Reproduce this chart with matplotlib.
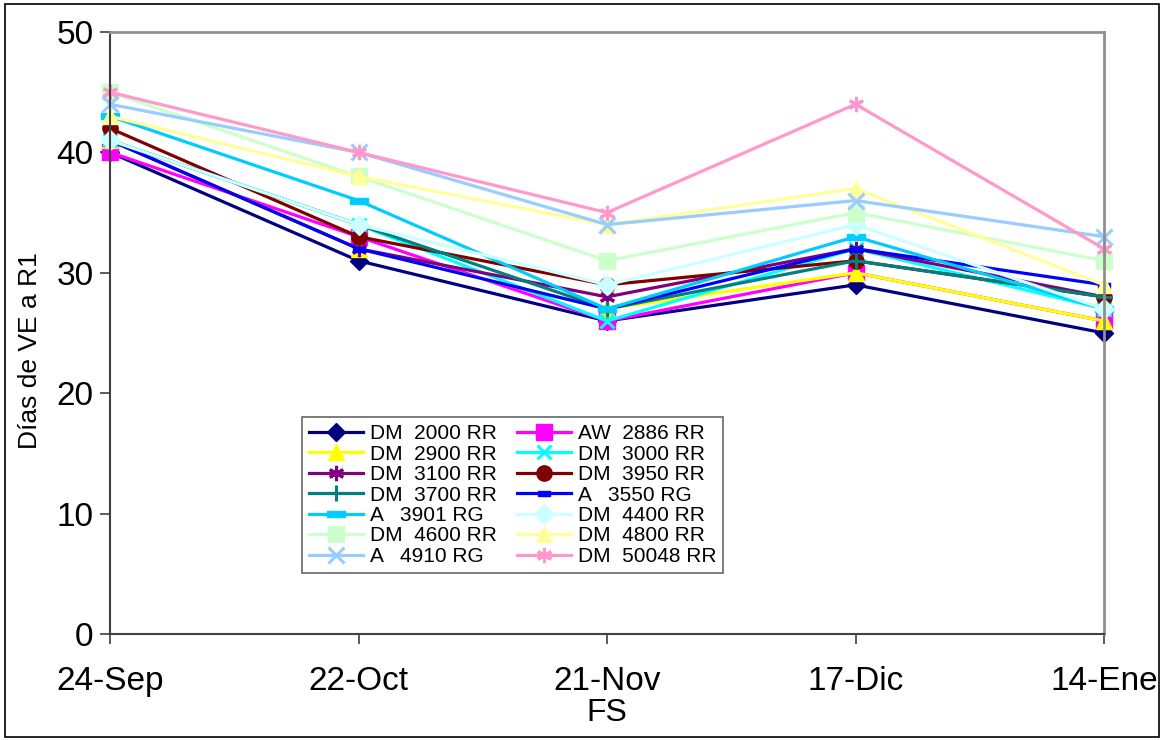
import numpy as np
import matplotlib.pyplot as plt
from matplotlib.patches import Rectangle

plt.rcParams['font.family'] = ['Liberation Sans', 'DejaVu Sans']

fechas = ["24-Sep", "22-Oct", "21-Nov", "17-Dic", "14-Ene"]

nombres = ["DM  2000 RR", "AW  2886 RR", "DM  2900 RR", "DM  3000 RR",
           "DM  3100 RR", "DM  3950 RR", "DM  3700 RR", "A   3550 RG",
           "A   3901 RG", "DM  4400 RR", "DM  4600 RR", "DM  4800 RR",
           "A   4910 RG", "DM  50048 RR"]

dm2000 = [40, 31, 26, 29, 25]
aw2886 = [40, 33, 26, 30, 26]
dm2900 = [41, 32, 27, 30, 26]
dm3000 = [41, 34, 26, 32, 27]
dm3100 = [41, 32, 28, 32, 28]
dm3950 = [42, 33, 29, 31, 28]
dm3700 = [41, 34, 27, 31, 28]
a3550 = [41, 32, 27, 32, 29]
a3901 = [43, 36, 27, 33, 27]
dm4400 = [41, 34, 29, 34, 27]
dm4600 = [45, 38, 31, 35, 31]
dm4800 = [43, 38, 34, 37, 29]
a4910 = [44, 40, 34, 36, 33]
dm50048 = [45, 40, 35, 44, 32]

series = [dm2000, aw2886, dm2900, dm3000, dm3100, dm3950, dm3700,
          a3550, a3901, dm4400, dm4600, dm4800, a4910, dm50048]

colores = ["#000080", "#FF00FF", "#FFFF00", "#00FFFF", "#800080", "#800000",
           "#008080", "#0000FF", "#00CCFF", "#CCFFFF", "#CCFFCC", "#FFFF99",
           "#99CCFF", "#FF99CC"]

guion_corto = [(-1, -0.45), (1, -0.45), (1, 0.45), (-1, 0.45), (-1, -0.45)]
guion_largo = [(-1, -0.3), (1, -0.3), (1, 0.3), (-1, 0.3), (-1, -0.3)]
asterisco = (6, 2, 0)

marcadores = ["D", "s", "^", "x", asterisco, "o", "+", guion_corto,
              guion_largo, "D", "s", "^", "x", asterisco]
tamanos = [9, 11, 11, 10, 11, 11, 11, 8, 13, 10, 11, 11, 11, 11]

fig = plt.figure(figsize=(11.62, 7.4), dpi=100)
ax = fig.add_axes([110 / 1162, 1 - 634 / 740, 994 / 1162, 602 / 740])

x = np.arange(len(fechas))
lineas = []
for vals, nom, col, mk, ms in zip(series, nombres, colores, marcadores, tamanos):
    ew = 2.2 if mk in ("x", "+") or mk == asterisco else 1
    l, = ax.plot(x, vals, color=col, lw=2.3, marker=mk, markersize=ms,
                 markerfacecolor=col, markeredgecolor=col, markeredgewidth=ew,
                 label=nom, clip_on=False)
    lineas.append(l)

ax.set_xlim(0, 4)
ax.set_ylim(0, 50)
ax.set_yticks(range(0, 51, 10))
ax.set_xticks(x)
ax.set_xticklabels(fechas)
ax.tick_params(axis="both", labelsize=24, length=7, width=1.2, color="#404040",
               direction="out")
ax.tick_params(axis="x", pad=16)
ax.tick_params(axis="y", pad=5)
ax.set_ylabel("Días de VE a R1", fontsize=19)
ax.yaxis.set_label_coords(-0.068, 0.47)
ax.set_xlabel("FS", fontsize=23, labelpad=1)

for s in ["top", "right"]:
    ax.spines[s].set_color("#909090")
    ax.spines[s].set_linewidth(2)
for s in ["left", "bottom"]:
    ax.spines[s].set_color("#404040")
    ax.spines[s].set_linewidth(1.5)

# leyenda ordenada por filas (dos columnas)
orden = list(range(0, 14, 2)) + list(range(1, 14, 2))
leg = ax.legend([lineas[i] for i in orden], [nombres[i] for i in orden],
                ncol=2, loc="lower left", bbox_to_anchor=(0.193, 0.101),
                fontsize=15, frameon=True, fancybox=False, edgecolor="#404040",
                labelspacing=0.07, handlelength=2.6, handletextpad=0.3,
                columnspacing=1.0, borderpad=0.35, borderaxespad=0)
leg.get_frame().set_linewidth(1.2)

fig.patches.append(Rectangle((5 / 1162, 3 / 740), 1154 / 1162, 733 / 740,
                             transform=fig.transFigure, fill=False,
                             edgecolor="black", linewidth=1.2))

fig.savefig("out.png", dpi=100)
